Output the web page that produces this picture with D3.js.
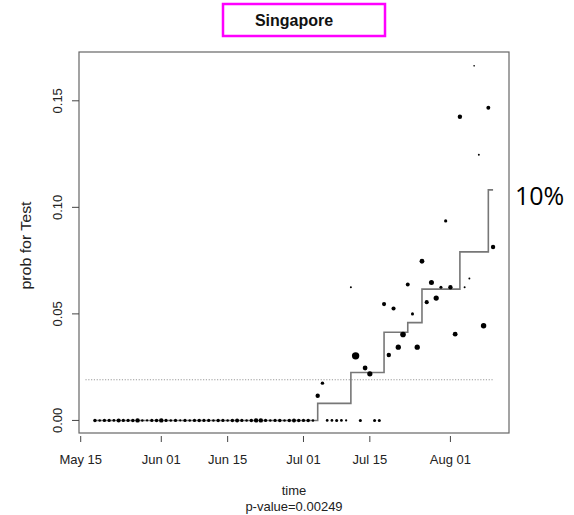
<!DOCTYPE html>
<html>
<head>
<meta charset="UTF-8">
<title>Singapore</title>
<style>
  body { margin: 0; background: #fff; }
  svg text { font-family: "Liberation Sans", Arial, sans-serif; fill: #222; }
</style>
</head>
<body>
<script src="https://d3js.org/d3.v7.min.js"></script>
<script>
// days with no positive test (prob = 0) and how many were tested
var zeroDates = ["05-18","05-19","05-20","05-21","05-22","05-23","05-24","05-25","05-26","05-27",
  "05-28","05-29","05-30","05-31","06-01","06-02","06-03","06-04","06-05","06-06",
  "06-07","06-08","06-09","06-10","06-11","06-12","06-13","06-14","06-15","06-16",
  "06-17","06-18","06-19","06-20","06-21","06-22","06-23","06-24","06-25","06-26",
  "06-27","06-28","06-29","06-30","07-01","07-02","07-03",
  "07-06","07-07","07-08","07-09","07-10","07-13","07-16","07-17"];
var zeroTests = [22,12,19,19,14,30,19,19,22,35,
  12,9,19,22,35,19,12,19,9,19,
  12,19,22,19,19,12,22,19,12,22,
  28,19,12,22,35,35,19,12,19,22,
  12,22,28,22,19,22,12,
  14,14,17,14,9,17,17,17];

// days with positive tests
var caseDates = ["07-04","07-05","07-11","07-12","07-14","07-15","07-18","07-19","07-20","07-21",
  "07-22","07-23","07-24","07-25","07-26","07-27","07-28","07-29","07-30","07-31",
  "08-01","08-02","08-03","08-04","08-05","08-06","08-07","08-08","08-09","08-10"];
var caseProbs = [0.0116,0.0175,0.0625,0.0303,0.0246,0.0219,0.0546,0.0307,0.0525,0.0344,
  0.0403,0.0638,0.0500,0.0344,0.0747,0.0555,0.0647,0.0574,0.0625,0.0936,
  0.0625,0.0405,0.1425,0.0625,0.0666,0.1664,0.1247,0.0444,0.1467,0.0814];
var caseTests = [35,22,7,100,42,50,31,35,31,50,
  58,28,17,50,42,31,46,50,17,19,
  35,42,35,7,7,5,7,54,28,35];

// fitted step function
var stepDates = ["05-18","07-04","07-11","07-18","07-23","07-26","08-03","08-09","08-10"];
var stepProbs = [0,0.0080,0.0225,0.0414,0.0459,0.0616,0.0791,0.1082,0.1082];

// dotted reference level
var refDates = ["05-16","08-10"];
var refProb = 0.0191;

var xTickDates = ["05-15","06-01","06-15","07-01","07-15","08-01"];
var xTickLabels = ["May 15","Jun 01","Jun 15","Jul 01","Jul 15","Aug 01"];
var yTicks = [0, 0.05, 0.10, 0.15];
var yTickLabels = ["0.00","0.05","0.10","0.15"];
var yLimits = [-0.0059, 0.1729];

var parseDay = function(s) { return d3.timeParse("%Y-%m-%d")("2020-" + s); };

var W = 574, H = 515;
var box = {left: 79, top: 52, right: 509, bottom: 433};

var svg = d3.select("body").append("svg")
  .attr("width", W)
  .attr("height", H);

// x range padded 4% like R does
var allDates = zeroDates.concat(caseDates).map(parseDay);
var ext = d3.extent(allDates);
var pad = (ext[1] - ext[0]) * 0.04;
var x = d3.scaleTime()
  .domain([new Date(+ext[0] - pad), new Date(+ext[1] + pad)])
  .range([box.left, box.right]);

var y = d3.scaleLinear()
  .domain(yLimits)
  .range([box.bottom, box.top]);

var r = d3.scaleSqrt().domain([0, 100]).range([0, 3.7]);

// title box
svg.append("rect")
  .attr("x", 223).attr("y", 4)
  .attr("width", 162).attr("height", 32)
  .attr("fill", "#fff")
  .attr("stroke", "#ff00ff")
  .attr("stroke-width", 2.5);
svg.append("text")
  .attr("x", 294).attr("y", 26)
  .attr("text-anchor", "middle")
  .style("font-size", "16px")
  .style("font-weight", "bold")
  .style("fill", "#111")
  .text("Singapore");

// plot frame
svg.append("rect")
  .attr("x", box.left).attr("y", box.top)
  .attr("width", box.right - box.left)
  .attr("height", box.bottom - box.top)
  .attr("fill", "none")
  .attr("stroke", "#666")
  .attr("stroke-width", 1.2);

// y axis
var yAxis = svg.append("g");
yAxis.selectAll("line").data(yTicks).enter().append("line")
  .attr("x1", box.left - 7).attr("x2", box.left)
  .attr("y1", function(d) { return y(d); })
  .attr("y2", function(d) { return y(d); })
  .attr("stroke", "#444");
yAxis.selectAll("text").data(yTicks).enter().append("text")
  .attr("transform", function(d) { return "translate(61.5," + y(d) + ") rotate(-90)"; })
  .attr("text-anchor", "middle")
  .style("font-size", "13px")
  .text(function(d, i) { return yTickLabels[i]; });

// x axis
var xAxis = svg.append("g");
var xTicks = xTickDates.map(parseDay);
xAxis.selectAll("line").data(xTicks).enter().append("line")
  .attr("x1", function(d) { return x(d); })
  .attr("x2", function(d) { return x(d); })
  .attr("y1", box.bottom + 3).attr("y2", box.bottom + 9)
  .attr("stroke", "#444");
xAxis.selectAll("text").data(xTicks).enter().append("text")
  .attr("x", function(d) { return x(d); })
  .attr("y", 464)
  .attr("text-anchor", "middle")
  .style("font-size", "13px")
  .text(function(d, i) { return xTickLabels[i]; });

// axis titles
svg.append("text")
  .attr("x", 294).attr("y", 495)
  .attr("text-anchor", "middle")
  .style("font-size", "13px")
  .text("time");
svg.append("text")
  .attr("x", 294).attr("y", 511)
  .attr("text-anchor", "middle")
  .style("font-size", "13px")
  .text("p-value=0.00249");
svg.append("text")
  .attr("transform", "translate(31," + ((box.top + box.bottom) / 2 + 3) + ") rotate(-90)")
  .attr("text-anchor", "middle")
  .attr("textLength", 88)
  .attr("lengthAdjust", "spacingAndGlyphs")
  .style("font-size", "14px")
  .text("prob for Test");

// dotted reference line
svg.append("line")
  .attr("x1", x(parseDay(refDates[0])))
  .attr("x2", x(parseDay(refDates[1])))
  .attr("y1", y(refProb)).attr("y2", y(refProb))
  .attr("stroke", "#999")
  .attr("stroke-width", 1.2)
  .attr("stroke-dasharray", "1.2,1.6");

// step function
var steps = stepDates.map(function(d, i) { return {date: parseDay(d), p: stepProbs[i]}; });
var stepLine = d3.line()
  .x(function(d) { return x(d.date); })
  .y(function(d) { return y(d.p); })
  .curve(d3.curveStepAfter);
svg.append("path")
  .attr("d", stepLine(steps))
  .attr("fill", "none")
  .attr("stroke", "#777")
  .attr("stroke-width", 1.6);

// points
var pts = zeroDates.map(function(d, i) { return {date: parseDay(d), p: 0, n: zeroTests[i]}; })
  .concat(caseDates.map(function(d, i) { return {date: parseDay(d), p: caseProbs[i], n: caseTests[i]}; }));
svg.append("g").selectAll("circle").data(pts).enter().append("circle")
  .attr("cx", function(d) { return x(d.date); })
  .attr("cy", function(d) { return y(d.p); })
  .attr("r", function(d) { return r(d.n); })
  .attr("fill", "#000");

// side annotation
svg.append("text")
  .attr("x", 515).attr("y", 205)
  .style("font-family", "'Open Sans', 'Noto Sans', sans-serif")
  .style("font-size", "25px")
  .style("fill", "#000")
  .text("10%");
</script>
</body>
</html>
